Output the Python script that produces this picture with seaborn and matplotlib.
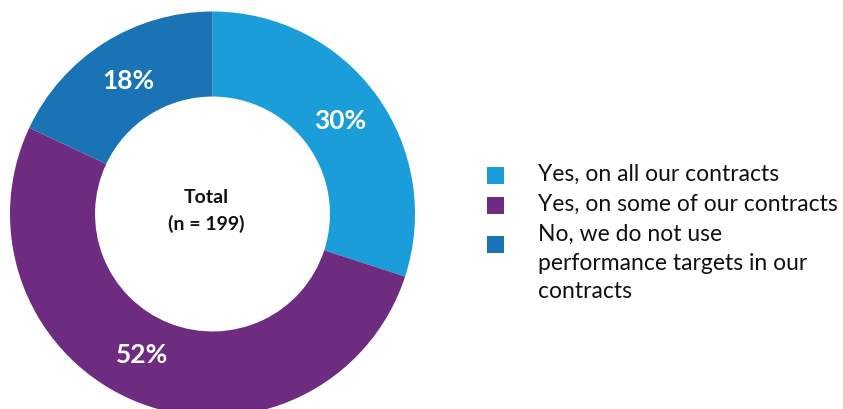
import matplotlib
matplotlib.use("Agg")
import matplotlib.pyplot as plt
from matplotlib.patches import Rectangle
import numpy as np
import seaborn as sns

# Survey responses: use of performance targets in contracts
categories = [
    "Yes, on all our contracts",
    "Yes, on some of our contracts",
    "No, we do not use\nperformance targets in our\ncontracts",
]
shares = [30, 52, 18]
pct_labels = ["30%", "52%", "18%"]
center_text = "Total\n(n = 199)"

sns.set_theme(style="white")
plt.rcParams["font.family"] = ["Lato", "DejaVu Sans"]

colors = sns.color_palette(["#1B9DD9", "#6E2C80", "#1A73B5"])

W, H = 843, 409
fig = plt.figure(figsize=(W / 100, H / 100), dpi=100)

# Donut axes, positioned in pixel units
cx, cy, r = 212.5, 409 - 214, 202.5
ax = fig.add_axes([(cx - r) / W, (cy - r) / H, 2 * r / W, 2 * r / H])

wedges, _ = ax.pie(
    shares,
    colors=colors,
    startangle=90,
    counterclock=False,
    radius=1.0,
    wedgeprops=dict(width=0.42, edgecolor="none", linewidth=0),
)
ax.set_xlim(-1, 1)
ax.set_ylim(-1, 1)
ax.set_aspect("equal")
ax.axis("off")

# Percentage labels placed along each wedge's mid-angle (small angular nudges)
label_r = 0.78
nudge_deg = [0, -5, 0]
for w, txt, dn in zip(wedges, pct_labels, nudge_deg):
    ang = np.deg2rad((w.theta1 + w.theta2) / 2 + dn)
    ax.text(label_r * np.cos(ang), label_r * np.sin(ang), txt,
            ha="center", va="center", color="white",
            fontsize=19, fontweight="bold")

ax.text(-0.03, 0.015, center_text, ha="center", va="center",
        fontsize=14, fontweight="bold", color="#111111", linespacing=1.55)

# Legend: colour squares with wrapped labels
sq = 17
sq_x = 487
text_x = 538
fs = 16.5
square_y = [175.5, 205, 244]
text_top = [164, 194, 224]
for c, label, syc, ty in zip(colors, categories, square_y, text_top):
    fig.patches.append(Rectangle((sq_x / W, (H - syc - sq / 2) / H), sq / W, sq / H,
                                 transform=fig.transFigure, facecolor=c,
                                 edgecolor="none"))
    fig.text(text_x / W, (H - ty) / H, label, ha="left", va="top",
             fontsize=fs, color="#111111", linespacing=1.45)

fig.savefig("out.png", dpi=100, facecolor="white")
